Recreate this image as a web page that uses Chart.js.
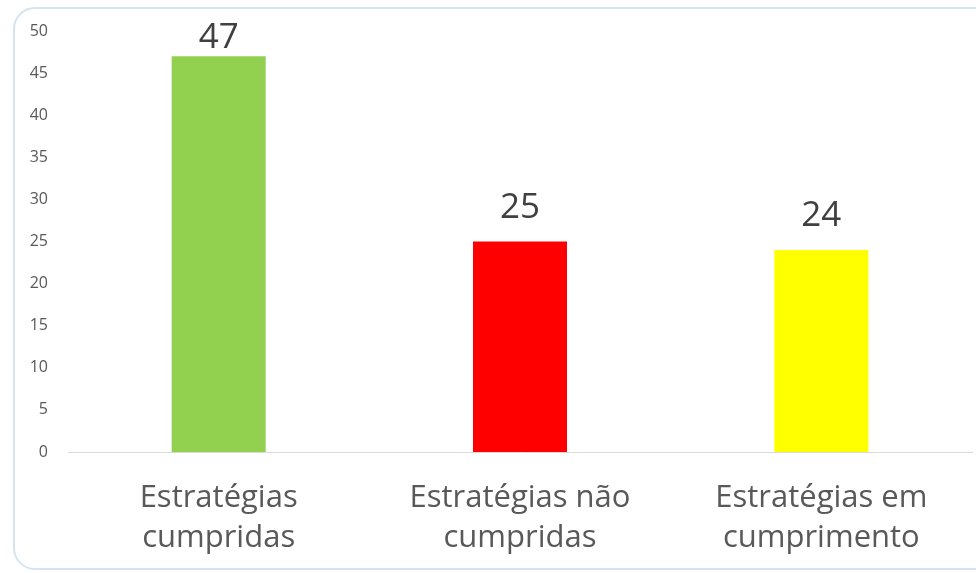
<!DOCTYPE html>
<html lang="pt">

<head>
  <meta charset="UTF-8">
  <title>Estratégias</title>
  <style>
    html, body {
      margin: 0;
      padding: 0;
      background: #ffffff;
      overflow: hidden;
    }

    .frame {
      position: absolute;
      left: 13px;
      top: 7px;
      width: 1000px;
      height: 563px;
      border: 2px solid #d5e3f2;
      border-radius: 22px;
      box-sizing: border-box;
    }

    .chart-box {
      position: absolute;
      left: 0;
      top: 0;
      width: 976px;
      height: 573px;
    }
  </style>
</head>

<body>
  <div class="frame"></div>
  <div class="chart-box">
    <canvas id="strategyChart"></canvas>
  </div>

  <script src="https://cdn.jsdelivr.net/npm/chart.js"></script>
  <script>
    // categories and counts
    const categories = [
      ['Estratégias', 'cumpridas'],
      ['Estratégias não', 'cumpridas'],
      ['Estratégias em', 'cumprimento']
    ];
    const counts = [47, 25, 24];
    const barColors = ['#92d050', '#ff0000', '#ffff00'];
    const yTicks = [0, 5, 10, 15, 20, 25, 30, 35, 40, 45, 50];

    const FONT = '"Open Sans", "Noto Sans", sans-serif';

    // value labels above each bar, kept inside the plot top
    const valueLabels = {
      id: 'valueLabels',
      afterDatasetsDraw(chart) {
        const ctx = chart.ctx;
        const meta = chart.getDatasetMeta(0);
        const minY = chart.chartArea.top + 17;
        ctx.save();
        ctx.font = '35px ' + FONT;
        ctx.fillStyle = '#404040';
        ctx.textAlign = 'center';
        ctx.textBaseline = 'alphabetic';
        meta.data.forEach((bar, i) => {
          const y = Math.max(bar.y - 24, minY);
          ctx.fillText(String(counts[i]), bar.x, y);
        });
        ctx.restore();
      }
    };

    const ctx = document.getElementById('strategyChart').getContext('2d');
    new Chart(ctx, {
      type: 'bar',
      data: {
        labels: categories,
        datasets: [{
          data: counts,
          backgroundColor: barColors,
          borderWidth: 0,
          barPercentage: 0.312,
          categoryPercentage: 1
        }]
      },
      options: {
        responsive: true,
        maintainAspectRatio: false,
        animation: false,
        events: [],
        layout: {
          padding: { top: 31, right: 4, bottom: 0, left: 0 }
        },
        plugins: {
          legend: { display: false },
          tooltip: { enabled: false }
        },
        scales: {
          x: {
            grid: { display: false, drawTicks: false },
            border: { display: true, color: '#d9d9d9', width: 1 },
            ticks: {
              color: '#595959',
              padding: 26,
              maxRotation: 0,
              autoSkip: false,
              font: { family: FONT, size: 31, lineHeight: 1.3 }
            },
            afterFit(scale) {
              scale.height = 121;
            }
          },
          y: {
            min: 0,
            max: 50,
            afterBuildTicks(scale) {
              scale.ticks = yTicks.map(v => ({ value: v }));
            },
            grid: { display: false, drawTicks: false },
            border: { display: false },
            ticks: {
              color: '#595959',
              padding: 20,
              font: { family: FONT, size: 16 }
            },
            afterFit(scale) {
              scale.width = 68;
            }
          }
        }
      },
      plugins: [valueLabels]
    });
  </script>
</body>

</html>
